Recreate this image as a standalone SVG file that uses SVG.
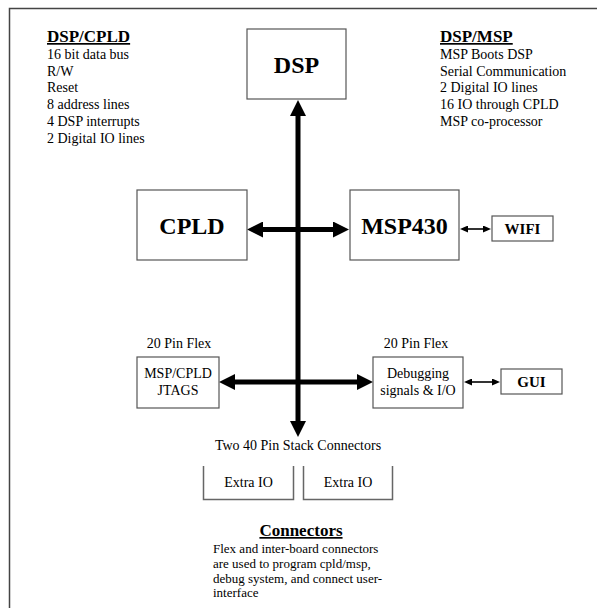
<svg xmlns="http://www.w3.org/2000/svg" width="597" height="608" viewBox="0 0 597 608">
<style>
text{font-family:"Liberation Serif","Times New Roman",serif;fill:#000}
.h{font-size:17px;font-weight:bold;text-decoration:underline}
.t{font-size:14px}
.b{font-size:13px}
.big{font-size:24px;font-weight:bold}
.sm{font-size:15px;font-weight:bold}
.box{fill:#fff;stroke:#555;stroke-width:1.2}
.open{fill:none;stroke:#666;stroke-width:1.5}
.thick{stroke:#000;stroke-width:5;fill:none}
.thin{stroke:#000;stroke-width:1.6;fill:none}
.c{text-anchor:middle}
</style>
<defs>
<marker id="ah" markerUnits="userSpaceOnUse" markerWidth="16" markerHeight="16" refX="6" refY="8" orient="auto-start-reverse" viewBox="0 0 16 16">
<path d="M0,0 L16,8 L0,16 z" fill="#000"/>
</marker>
<marker id="as" markerUnits="userSpaceOnUse" markerWidth="8" markerHeight="7" refX="4" refY="3.5" orient="auto-start-reverse" viewBox="0 0 8 7">
<path d="M0,0 L8,3.5 L0,7 z" fill="#000"/>
</marker>
</defs>
<rect x="0" y="0" width="597" height="608" fill="#fff"/>
<g id="frame">
<path d="M9.5,608 V8.5 H597" fill="none" stroke="#444" stroke-width="1.5"/>
</g>
<g id="notes-dsp-cpld">
<text class="h" x="47" y="42">DSP/CPLD</text>
<text class="t" x="47" y="59">16 bit data bus</text>
<text class="t" x="47" y="75.7">R/W</text>
<text class="t" x="47" y="92.4">Reset</text>
<text class="t" x="47" y="109.1">8 address lines</text>
<text class="t" x="47" y="125.8">4 DSP interrupts</text>
<text class="t" x="47" y="142.5">2 Digital IO lines</text>
</g>
<g id="notes-dsp-msp">
<text class="h" x="440" y="42">DSP/MSP</text>
<text class="t" x="440" y="59">MSP Boots DSP</text>
<text class="t" x="440" y="75.7">Serial Communication</text>
<text class="t" x="440" y="92.4">2 Digital IO lines</text>
<text class="t" x="440" y="109.1">16 IO through CPLD</text>
<text class="t" x="440" y="125.8">MSP co-processor</text>
</g>
<g id="connectors">
<line class="thick" x1="298" y1="110" x2="298" y2="427" marker-start="url(#ah)" marker-end="url(#ah)"/>
<line class="thick" x1="257" y1="229.5" x2="339" y2="229.5" marker-start="url(#ah)" marker-end="url(#ah)"/>
<line class="thick" x1="229" y1="382" x2="363" y2="382" marker-start="url(#ah)" marker-end="url(#ah)"/>
<line class="thin" x1="464" y1="229" x2="487" y2="229" marker-start="url(#as)" marker-end="url(#as)"/>
<line class="thin" x1="468" y1="382" x2="496" y2="382" marker-start="url(#as)" marker-end="url(#as)"/>
</g>
<g id="dsp">
<rect class="box" x="247" y="29" width="99" height="70"/>
<text class="big c" x="296.5" y="73">DSP</text>
</g>
<g id="cpld">
<rect class="box" x="137" y="190" width="110" height="70"/>
<text class="big c" x="192" y="234">CPLD</text>
</g>
<g id="msp430">
<rect class="box" x="350" y="190" width="109" height="70"/>
<text class="big c" x="404.5" y="234">MSP430</text>
</g>
<g id="wifi">
<rect class="box" x="492" y="216" width="61" height="25"/>
<text class="sm c" x="522.5" y="234">WIFI</text>
</g>
<g id="jtags">
<text class="t c" x="179" y="348">20 Pin Flex</text>
<rect class="box" x="137" y="357" width="82" height="51"/>
<text class="t c" x="178" y="378">MSP/CPLD</text>
<text class="t c" x="178" y="395">JTAGS</text>
</g>
<g id="debug">
<text class="t c" x="416" y="348">20 Pin Flex</text>
<rect class="box" x="373" y="357" width="90" height="51"/>
<text class="t c" x="418" y="378">Debugging</text>
<text class="t c" x="418" y="395">signals &amp; I/O</text>
</g>
<g id="gui">
<rect class="box" x="501" y="369" width="61" height="25"/>
<text class="sm c" x="531.5" y="387">GUI</text>
</g>
<g id="stack">
<text class="t c" x="298" y="450">Two 40 Pin Stack Connectors</text>
</g>
<g id="extra-io-1">
<path class="open" d="M203.5,466 V499.5 H293.5 V466"/>
<text class="t c" x="248.5" y="487">Extra IO</text>
</g>
<g id="extra-io-2">
<path class="open" d="M303.5,466 V499.5 H392.5 V466"/>
<text class="t c" x="348" y="487">Extra IO</text>
</g>
<g id="notes-connectors">
<text class="h c" x="301" y="536">Connectors</text>
<text class="b" x="213" y="553">Flex and inter-board connectors</text>
<text class="b" x="213" y="568">are used to program cpld/msp,</text>
<text class="b" x="213" y="583">debug system, and connect user-</text>
<text class="b" x="213" y="597">interface</text>
</g>
</svg>
